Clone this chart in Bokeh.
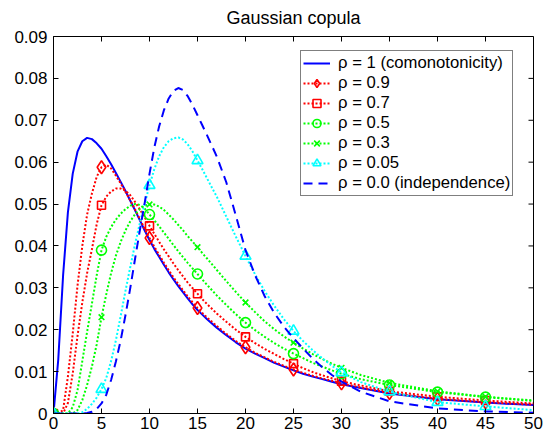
import math
from bokeh.plotting import figure
from bokeh.models import Legend, LegendItem, FixedTicker, Range1d
from bokeh.embed import file_html
from bokeh.resources import INLINE

# ---------------- data ----------------
x_grid = [0, 0.5, 1, 1.5, 2, 2.5, 3, 3.5, 4, 4.5, 5, 5.5, 6, 6.5, 7, 7.5, 8, 8.5,
          9, 9.5, 10, 10.5, 11, 11.5, 12, 12.5, 13, 13.5, 14, 14.5, 15, 15.5, 16,
          17, 18, 19, 20, 21, 22, 23, 24, 25, 26, 27, 28, 29, 30, 32, 35, 40, 45, 50]

rho_1 = [0, 0.0130, 0.0330, 0.0480, 0.0572, 0.0625, 0.0650, 0.0658, 0.0655, 0.0645,
         0.0632, 0.0614, 0.0595, 0.0574, 0.0553, 0.0531, 0.0508, 0.0485, 0.0461, 0.0437,
         0.0414, 0.0393, 0.0374, 0.0355, 0.0337, 0.0320, 0.0304, 0.0289, 0.0274, 0.0260,
         0.0247, 0.0236, 0.0225, 0.0205, 0.0187, 0.0170, 0.0155, 0.0143, 0.0132, 0.0121,
         0.0112, 0.0103, 0.0095, 0.0088, 0.0082, 0.0076, 0.0070, 0.0061, 0.0048, 0.0034,
         0.0026, 0.0020]

rho_09 = [0, 0, 0.0008, 0.0088, 0.0190, 0.0305, 0.0400, 0.0475, 0.0525, 0.0565,
          0.0588, 0.0594, 0.0585, 0.0568, 0.0549, 0.0529, 0.0509, 0.0487, 0.0464, 0.0441,
          0.0419, 0.0398, 0.0379, 0.0360, 0.0342, 0.0325, 0.0309, 0.0294, 0.0279, 0.0265,
          0.0252, 0.0240, 0.0229, 0.0209, 0.0190, 0.0173, 0.0158, 0.0145, 0.0134, 0.0123,
          0.0114, 0.0105, 0.0097, 0.0090, 0.0084, 0.0078, 0.0072, 0.0062, 0.0049, 0.0035,
          0.0027, 0.0021]

rho_07 = [0, 0, 0, 0.0025, 0.0095, 0.0185, 0.0265, 0.0335, 0.0392, 0.0452,
          0.0497, 0.0518, 0.0530, 0.0537, 0.0537, 0.0532, 0.0521, 0.0505, 0.0487, 0.0468,
          0.0448, 0.0429, 0.0410, 0.0392, 0.0375, 0.0358, 0.0342, 0.0327, 0.0312, 0.0299,
          0.0286, 0.0273, 0.0261, 0.0239, 0.0219, 0.0200, 0.0183, 0.0168, 0.0154, 0.0142,
          0.0130, 0.0119, 0.0108, 0.0099, 0.0091, 0.0084, 0.0077, 0.0067, 0.0053, 0.0040,
          0.0031, 0.0024]

rho_05 = [0, 0, 0, 0, 0.0015, 0.0055, 0.0125, 0.0195, 0.0262, 0.0330,
          0.0390, 0.0422, 0.0445, 0.0463, 0.0477, 0.0488, 0.0496, 0.0500, 0.0498, 0.0489,
          0.0475, 0.0461, 0.0447, 0.0432, 0.0417, 0.0402, 0.0387, 0.0373, 0.0359, 0.0346,
          0.0333, 0.0320, 0.0307, 0.0282, 0.0259, 0.0237, 0.0217, 0.0199, 0.0183, 0.0168,
          0.0155, 0.0143, 0.0132, 0.0121, 0.0112, 0.0103, 0.0095, 0.0082, 0.0068, 0.0051,
          0.0039, 0.0030]

rho_03 = [0, 0, 0, 0, 0, 0.0008, 0.0032, 0.0068, 0.0112, 0.0165,
          0.0230, 0.0285, 0.0335, 0.0377, 0.0410, 0.0437, 0.0459, 0.0476, 0.0488, 0.0496,
          0.0499, 0.0499, 0.0494, 0.0486, 0.0475, 0.0463, 0.0450, 0.0437, 0.0423, 0.0410,
          0.0397, 0.0383, 0.0370, 0.0343, 0.0316, 0.0290, 0.0265, 0.0242, 0.0220, 0.0201,
          0.0184, 0.0169, 0.0155, 0.0142, 0.0130, 0.0119, 0.0109, 0.0092, 0.0073, 0.0053,
          0.0040, 0.0031]

rho_005 = [0, 0, 0, 0, 0, 0, 0.0003, 0.0011, 0.0023, 0.0038,
           0.0058, 0.0085, 0.0125, 0.0175, 0.0233, 0.0293, 0.0350, 0.0405, 0.0455, 0.0500,
           0.0545, 0.0583, 0.0614, 0.0636, 0.0650, 0.0657, 0.0659, 0.0654, 0.0642, 0.0625,
           0.0604, 0.0583, 0.0561, 0.0518, 0.0470, 0.0422, 0.0376, 0.0332, 0.0292, 0.0257,
           0.0225, 0.0197, 0.0173, 0.0151, 0.0132, 0.0114, 0.0098, 0.0075, 0.0052, 0.0027,
           0.0017, 0.0008]

rho_0 = [0, 0, 0, 0, 0, 0, 0, 0.0001, 0.0004, 0.0011,
         0.0024, 0.0045, 0.0080, 0.0124, 0.0175, 0.0235, 0.0300, 0.0370, 0.0438, 0.0503,
         0.0572, 0.0635, 0.0685, 0.0724, 0.0752, 0.0770, 0.0777, 0.0772, 0.0757, 0.0736,
         0.0712, 0.0688, 0.0664, 0.0614, 0.0552, 0.0472, 0.0390, 0.0330, 0.0280, 0.0240,
         0.0207, 0.0180, 0.0155, 0.0131, 0.0110, 0.0092, 0.0076, 0.0052, 0.0029, 0.0012,
         0.0005, 0.0002]

marker_x = [0, 5, 10, 15, 20, 25, 30, 35, 40, 45]

labels = ["ρ = 1 (comonotonicity)", "ρ = 0.9", "ρ = 0.7", "ρ = 0.5",
          "ρ = 0.3", "ρ = 0.05", "ρ = 0.0 (independence)"]

x_ticks = [0, 5, 10, 15, 20, 25, 30, 35, 40, 45, 50]
y_ticks = [0, 0.01, 0.02, 0.03, 0.04, 0.05, 0.06, 0.07, 0.08, 0.09]
y_tick_labels = ["0", "0.01", "0.02", "0.03", "0.04", "0.05", "0.06", "0.07", "0.08", "0.09"]

FONT = "Liberation Sans"

p = figure(width=543, height=440, output_backend="svg", toolbar_location=None,
           x_range=Range1d(x_ticks[0], x_ticks[-1]),
           y_range=Range1d(y_ticks[0], y_ticks[-1]),
           min_border_left=53, min_border_right=10, min_border_top=34,
           min_border_bottom=27, background_fill_color="white",
           border_fill_color="white")
p.outline_line_color = "black"
p.outline_line_width = 1
p.xgrid.visible = False
p.ygrid.visible = False

p.title.text = "Gaussian copula"
p.title.align = "center"
p.title.text_font = FONT
p.title.text_font_size = "18px"
p.title.text_font_style = "normal"
p.title.text_color = "black"
p.title.standoff = 14
p.title.vertical_align = "top"

for ax in (p.xaxis[0], p.yaxis[0]):
    ax.axis_line_color = "black"
    ax.axis_line_width = 1
    ax.major_tick_line_color = "black"
    ax.major_tick_in = 5
    ax.major_tick_out = 0
    ax.minor_tick_line_color = None
    ax.major_label_text_font = FONT
    ax.major_label_text_color = "black"
    ax.major_label_text_font_size = "17px"

p.xaxis.ticker = FixedTicker(ticks=x_ticks)
p.yaxis.ticker = FixedTicker(ticks=y_ticks)
p.yaxis.major_label_overrides = {t: s for t, s in zip(y_ticks, y_tick_labels)}
p.xaxis.major_label_standoff = 3
p.yaxis.major_label_standoff = 6

# inward ticks on the top and right sides of the box
p.ray(x=x_ticks, y=[y_ticks[-1]] * len(x_ticks), length=5, length_units="screen",
      angle=-math.pi / 2, line_color="black", line_width=1)
p.ray(x=[x_ticks[-1]] * len(y_ticks), y=y_ticks, length=5, length_units="screen",
      angle=math.pi, line_color="black", line_width=1)

BLUE, RED, GREEN, CYAN = "#0000ff", "#ff0000", "#00ff00", "#00ffff"
DOT = "2 2"
LW = 2


def pick(series):
    return [series[x_grid.index(m)] for m in marker_x]


items = []
r = p.line(x_grid, rho_1, line_color=BLUE, line_width=LW)
items.append(LegendItem(label=labels[0], renderers=[r]))

specs = [
    (rho_09, RED, "diamond", 13),
    (rho_07, RED, "square", 8),
    (rho_05, GREEN, "circle", 10),
    (rho_03, GREEN, "x", 8),
    (rho_005, CYAN, "triangle", 11),
]
for i, (ser, col, mk, sz) in enumerate(specs):
    rl = p.line(x_grid, ser, line_color=col, line_width=LW, line_dash=DOT)
    rm = p.scatter(marker_x, pick(ser), marker=mk, size=sz, line_color=col,
                   line_width=1.6, fill_alpha=0)
    items.append(LegendItem(label=labels[i + 1], renderers=[rl, rm]))

r0 = p.line(x_grid, rho_0, line_color=BLUE, line_width=LW, line_dash="9 6")
items.append(LegendItem(label=labels[6], renderers=[r0]))

legend = Legend(items=items, location=(247, 217))
legend.border_line_color = "black"
legend.border_line_width = 1
legend.background_fill_color = "white"
legend.background_fill_alpha = 1
legend.label_text_font = FONT
legend.label_text_font_size = "16.7px"
legend.label_text_color = "black"
legend.glyph_width = 27
legend.glyph_height = 20
legend.label_height = 20
legend.spacing = 0
legend.padding = 2
legend.margin = 0
legend.label_standoff = 8
p.add_layout(legend, "center")

with open("out.html", "w") as f:
    f.write(file_html(p, INLINE))
